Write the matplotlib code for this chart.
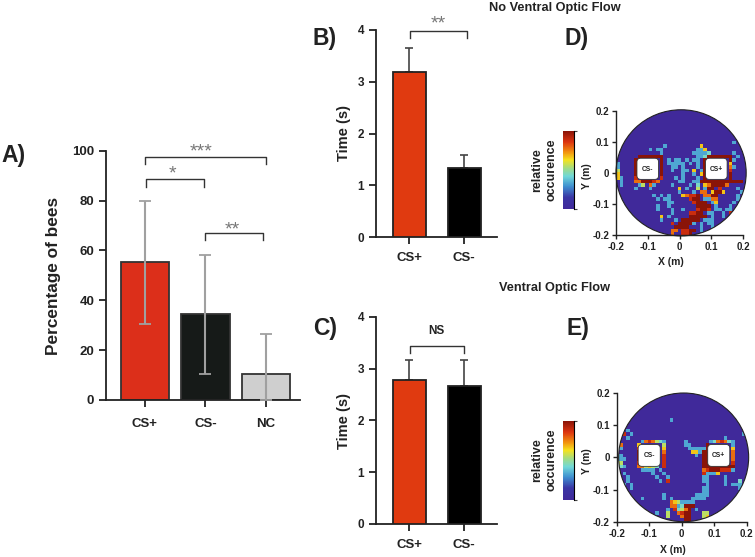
import matplotlib
matplotlib.use('Agg')
import numpy as np
import matplotlib.pyplot as plt
import matplotlib.transforms as mtransforms
from matplotlib.colors import LinearSegmentedColormap, Normalize
from matplotlib.cm import ScalarMappable
from matplotlib.patches import Ellipse, FancyBboxPatch

plt.rcParams['font.family'] = ['Liberation Sans', 'DejaVu Sans']
plt.rcParams['font.weight'] = 'bold'
plt.rcParams['axes.labelweight'] = 'bold'

W, H = 755, 557
DARK = '#222222'
STAR = '#777777'

# Panel A
a_labels = ['CS+', 'CS-', 'NC']
a_values = [55.3, 34.5, 10.5]
a_err_low = [24.8, 24.0, 10.5]
a_err_high = [24.7, 23.7, 16.0]
a_colors = ['#dc2f1a', '#161a18', '#cfcfcf']

# Panels B and C
time_labels = ['CS+', 'CS-']
b_values = [3.18, 1.33]
b_err = [0.48, 0.25]
c_values = [2.77, 2.67]
c_err = [0.40, 0.50]
time_colors = ['#e03a10', '#000000']

# Heat maps, one digit per cell (0-9 relative occurence, . = none)
d_grid = [
    "", "", "", "", "", "", "", "", "",
    "................................3",
    ".............3.........6",
    ".........3.33.........336",
    "............3........33334......3",
    "......9999999.........3349999999.3",
    ".....9......9.3.33.3.33.9......93",
    "3....9......9.33333.3.3.9......6",
    "3....9......9..33.3...3.9......73",
    "5....9......9..3..33.6.39......8",
    "6....9......9.....3..3.69......9",
    "63...8......8...3.3...3.9......9",
    ".3...7799987.....33..33999999999999",
    ".3....35.73....3....3.4.6799997",
    ".....3...3.......6.3..5.399.8....3",
    ".................3...3.77.6996....3",
    "..........3.3.3...67889.7799.....3",
    "...........3.33.....899.3377.....3",
    "..............33.....8999.36....3",
    "...........3..3.......9999.3...3",
    "...........3...3..3...8998.33.33",
    "...............3....8899.33..3.8",
    "............6.3.....99999.3..3.8",
    "............3...3.99999.333",
    "...............8.99993.3.33",
    "................9999...3..3",
    "...............77.8899.3",
    "...............7..889",
]
e_grid = [
    "", "", "", "", "", "", "",
    "..............3",
    "", "",
    "..3",
    ".8.3..............................3",
    "..3..........................3",
    "......3787543.....3......3478743",
    "7....6......5.....33....9......3",
    "3....8......6......333339......6",
    ".....9......7.......66399......7",
    "3....9......8........3.99......7",
    "33...9......8..........99......7",
    "5....8......8..........99......8",
    "43...775654.8..........999999999",
    "......3333.3...........789998883",
    ".3.......3..3..........83336",
    "..3.......3..3.........33....3",
    "..3........3.8.........33....3...4",
    ".3.3....................3....3.333",
    "...3...................33........3",
    ".......................33.........33",
    "............3........3333",
    "......3.....3.3.....3333",
    "..............7653333",
    "..............7734999",
    ".............3.84579.3",
    "..........3..5..7899...55",
    ".............5...799...56",
    "..................99",
]
heat_ticks = [-0.2, -0.1, 0, 0.1, 0.2]
heat_ticklabels = ['-0.2', '-0.1', '0', '0.1', '0.2']

cmap = LinearSegmentedColormap.from_list('occurence', [
    (0.0, '#40299a'), (0.15, '#3a35a4'), (0.29, '#3f8fd0'), (0.42, '#70d8d8'),
    (0.52, '#a0dc88'), (0.63, '#f5e21e'), (0.73, '#f2920f'), (0.86, '#dc3410'),
    (1.0, '#8a1408')])
norm = Normalize(0, 9)

fig = plt.figure(figsize=(W / 100, H / 100), dpi=100)
px = mtransforms.Affine2D().scale(1 / W, -1 / H).translate(0, 1) + fig.transFigure


def px_axes(left, top, right, bottom):
    return fig.add_axes([left / W, 1 - bottom / H, (right - left) / W, (bottom - top) / H])


def label(x, y, s, **kw):
    kw.setdefault('color', DARK)
    fig.text(x, y, s, transform=px, va='center', **kw)


def stars(x, y, s):
    # the asterisk sits high in the line, so push the text down a little
    label(x, y + 4, s, ha='center', fontsize=14, color=STAR, fontweight='normal')


def style_axes(ax, size):
    ax.spines['top'].set_visible(False)
    ax.spines['right'].set_visible(False)
    ax.spines['left'].set_color(DARK)
    ax.spines['bottom'].set_color(DARK)
    ax.spines['left'].set_linewidth(1.3)
    ax.spines['bottom'].set_linewidth(1.3)
    ax.tick_params(length=5, width=1.3, color=DARK, labelcolor=DARK, labelsize=size)


def bracket(ax, x0, x1, top, leg0, leg1, color='#333333'):
    ax.plot([x0, x0, x1, x1], [leg0, top, top, leg1], color=color, lw=1.0, clip_on=False)


def time_panel(box, values, err, ylabel_pos):
    ax = px_axes(*box)
    x = np.arange(len(values))
    ax.bar(x, values, width=0.6, color=time_colors, edgecolor=DARK, linewidth=1.3, zorder=3)
    ax.errorbar(x, values, yerr=[np.zeros(len(err)), err], fmt='none', ecolor='#444444',
                elinewidth=1.2, capsize=3, capthick=1.2, zorder=2)
    ax.set_xlim(-0.6, 1.6)
    ax.set_ylim(0, 4)
    ax.set_yticks(range(5))
    ax.set_xticks(x)
    ax.set_xticklabels(time_labels)
    style_axes(ax, 8.5)
    ax.tick_params(axis='x', labelsize=9.5, pad=6)
    ax.set_ylabel('Time (s)', fontsize=10.5, color=DARK)
    ax.yaxis.set_label_coords(*ylabel_pos, transform=px)
    return ax


def heat_panel(box, grid, center, radius, cs_minus, cs_plus, cbar_box, rel_y, ylab, xlab):
    ax = px_axes(*box)
    rows = [r.ljust(36, '.') for r in grid]
    cells = np.array([[0 if ch == '.' else int(ch) for ch in r[:36]] for r in rows], dtype=float)
    cx, cy = center
    rx, ry = radius
    im = ax.imshow(cells, cmap=cmap, norm=norm, interpolation='nearest', aspect='auto',
                   extent=(cx - rx, cx + rx, cy - ry, cy + ry), zorder=1)
    edge = Ellipse(center, 2 * rx, 2 * ry, fc='none', ec=DARK, lw=0.8, clip_on=False, zorder=4)
    ax.add_patch(edge)
    im.set_clip_path(edge)
    im.set_clip_box(fig.bbox)
    for (bx, by), name in ((cs_minus, 'CS-'), (cs_plus, 'CS+')):
        ax.add_patch(FancyBboxPatch((bx - 0.026, by - 0.026), 0.052, 0.052,
                                    boxstyle='round,pad=0.008,rounding_size=0.012',
                                    fc='white', ec='#333333', lw=0.6, zorder=5))
        ax.text(bx, by - 0.001, name, fontsize=4.8, ha='center', va='center', color=DARK, zorder=6)
    ax.set_xlim(-0.2, 0.2)
    ax.set_ylim(-0.2, 0.2)
    ax.set_xticks(heat_ticks)
    ax.set_xticklabels(heat_ticklabels)
    ax.set_yticks(heat_ticks)
    ax.set_yticklabels(heat_ticklabels)
    style_axes(ax, 7)
    ax.tick_params(length=3, width=1.0, pad=2)
    ax.spines['left'].set_linewidth(1.0)
    ax.spines['bottom'].set_linewidth(1.0)
    ax.set_zorder(3)
    ax.set_xlabel('X (m)', fontsize=7.5, color=DARK)
    ax.xaxis.set_label_coords(*xlab, transform=px)
    ax.set_ylabel('Y (m)', fontsize=7.5, color=DARK)
    ax.yaxis.set_label_coords(*ylab, transform=px)

    cax = px_axes(*cbar_box)
    cb = fig.colorbar(ScalarMappable(norm=norm, cmap=cmap), cax=cax)
    cb.set_ticks([0, 9])
    cb.set_ticklabels(['', ''])
    cb.ax.tick_params(length=2, width=0.8, color='#444444')
    cb.outline.set_visible(False)
    cax.spines['right'].set_visible(True)
    label(537, rel_y, 'relative', rotation=90, ha='center', fontsize=9)
    label(551.5, rel_y, 'occurence', rotation=90, ha='center', fontsize=9)


# Panel A
ax = px_axes(106, 150.7, 300, 400)
x = np.arange(3)
ax.bar(x, a_values, width=0.8, color=a_colors, edgecolor='#333333', linewidth=1.3, zorder=2)
ax.errorbar(x, a_values, yerr=[a_err_low, a_err_high], fmt='none', ecolor='#a0a0a0',
            elinewidth=1.5, capsize=4, capthick=1.3, zorder=3)
ax.set_xlim(-0.64, 2.56)
ax.set_ylim(0, 100)
ax.set_yticks(range(0, 101, 20))
ax.set_xticks(x)
ax.set_xticklabels(a_labels)
style_axes(ax, 9.5)
ax.tick_params(axis='x', pad=8)
ax.set_ylabel('Percentage of bees', fontsize=12.4, color=DARK)
ax.yaxis.set_label_coords(61, 276, transform=px)
bracket(ax, 0, 2, 97.6, 94.6, 94.6)
bracket(ax, 0.02, 0.97, 88.6, 85.6, 85.6)
bracket(ax, 1, 1.95, 67, 64, 64)
stars(200.7, 148, '***')
stars(172, 170, '*')
stars(232, 226, '**')

# Panels B and C
ax = time_panel((376, 30, 497, 237), b_values, b_err, (351, 133))
bracket(ax, 0.01, 1.05, 3.99, 3.85, 3.85)
stars(438, 20, '**')

ax = time_panel((376, 316.7, 497, 524), c_values, c_err, (351, 420.7))
bracket(ax, 0.01, 1.0, 3.44, 3.3, 3.3)
ax.text(0.5, 3.72, 'NS', fontsize=8.5, ha='center', va='center', color=DARK)

# Panels D and E
heat_panel((616, 110.7, 743, 235), d_grid, (0.005, 0.0), (0.205, 0.203),
           (-0.1, 0.013), (0.116, 0.013), (563, 131, 574, 209), 170, (592, 176), (671, 257))
heat_panel((616.7, 393, 746.7, 521.7), e_grid, (0.006, 0.0), (0.2, 0.2),
           (-0.1, 0.006), (0.114, 0.006), (563, 421, 574, 500), 460, (592, 461), (672.7, 545))

# Panel letters and titles
label(1, 155.7, 'A)', fontsize=16.5)
label(313, 39, 'B)', fontsize=16.5)
label(313, 328, 'C)', fontsize=16.5)
label(565, 39, 'D)', fontsize=16.5)
label(566, 328, 'E)', fontsize=16.5)
label(554.5, 8, 'No Ventral Optic Flow', ha='center', fontsize=9.2)
label(554.5, 288, 'Ventral Optic Flow', ha='center', fontsize=9.2)

fig.savefig('out.png', dpi=100)
